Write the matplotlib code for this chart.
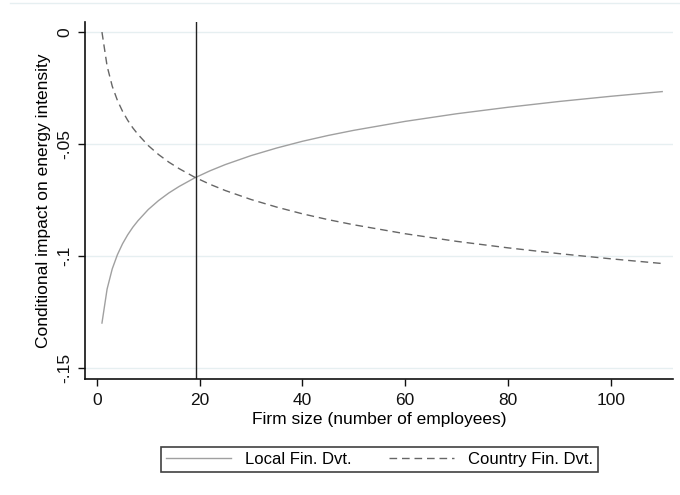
import matplotlib
matplotlib.use('Agg')
import matplotlib.pyplot as plt
from matplotlib.lines import Line2D

plt.rcParams['font.family'] = ['Liberation Sans', 'DejaVu Sans']

# values
firm_size = [1, 2, 3, 4, 5, 6, 7, 8, 10, 12, 14, 16, 19, 22, 25, 30, 35, 40,
             45, 50, 60, 70, 80, 90, 100, 110]
local_fin = [-0.1300, -0.1148, -0.1058, -0.0995, -0.0946, -0.0906, -0.0872,
             -0.0843, -0.0793, -0.0753, -0.0719, -0.0690, -0.0652, -0.0620,
             -0.0592, -0.0552, -0.0518, -0.0488, -0.0462, -0.0439, -0.0399,
             -0.0365, -0.0336, -0.0310, -0.0287, -0.0266]
country_fin = [0.0000, -0.0152, -0.0242, -0.0305, -0.0354, -0.0394, -0.0428,
               -0.0457, -0.0507, -0.0547, -0.0581, -0.0610, -0.0648, -0.0680,
               -0.0708, -0.0748, -0.0782, -0.0812, -0.0838, -0.0861, -0.0901,
               -0.0935, -0.0964, -0.0990, -0.1013, -0.1034]
threshold = 19.3

x_ticks = [0, 20, 40, 60, 80, 100]
y_ticks = [0, -0.05, -0.1, -0.15]
y_tick_labels = ['0', '-.05', '-.1', '-.15']

fig = plt.figure(figsize=(6.8, 4.95), dpi=100)
ax = fig.add_axes([0.125, 0.2343, 0.8647, 0.7213])

for yv in y_ticks:
    ax.axhline(yv, color='#e6eff1', lw=1, zorder=0)

ax.plot(firm_size, local_fin, color='#a0a0a0', lw=1, label='Local Fin. Dvt.')
ax.plot(firm_size, country_fin, color='#666666', lw=1, dashes=(5.5, 3.5),
        label='Country Fin. Dvt.')
ax.axvline(threshold, color='#222222', lw=1)

ax.set_xlim(-2.3, 112.1)
ax.set_ylim(-0.155, 0.0045)
ax.set_xticks(x_ticks)
ax.set_yticks(y_ticks)
ax.set_yticklabels(y_tick_labels)
for lab in ax.get_yticklabels():
    lab.set_rotation(90)
    lab.set_va('center')

for s in ['top', 'right']:
    ax.spines[s].set_visible(False)
for s in ['left', 'bottom']:
    ax.spines[s].set_linewidth(1.2)
    ax.spines[s].set_color('#111111')
ax.tick_params(length=5, width=1, labelsize=12.5, colors='#111111')
ax.tick_params(axis='x', pad=5)
ax.tick_params(axis='y', pad=4)

ax.set_xlabel('Firm size (number of employees)', fontsize=12.5, labelpad=3)
ax.set_ylabel('Conditional impact on energy intensity', fontsize=12.5,
              labelpad=5)

leg = fig.legend(loc='center', bbox_to_anchor=(0.558, 0.0725), ncol=2,
                 fontsize=12, frameon=True, fancybox=False,
                 handlelength=3.9, columnspacing=2.3, handletextpad=0.8,
                 borderpad=0.3)
leg.get_frame().set_edgecolor('#111111')
leg.get_frame().set_linewidth(1.2)

fig.add_artist(Line2D([0.015, 1], [1 - 2.5 / 495, 1 - 2.5 / 495],
                      transform=fig.transFigure, color='#e6eff1', lw=1))

fig.savefig('out.png', dpi=100, facecolor='white')
